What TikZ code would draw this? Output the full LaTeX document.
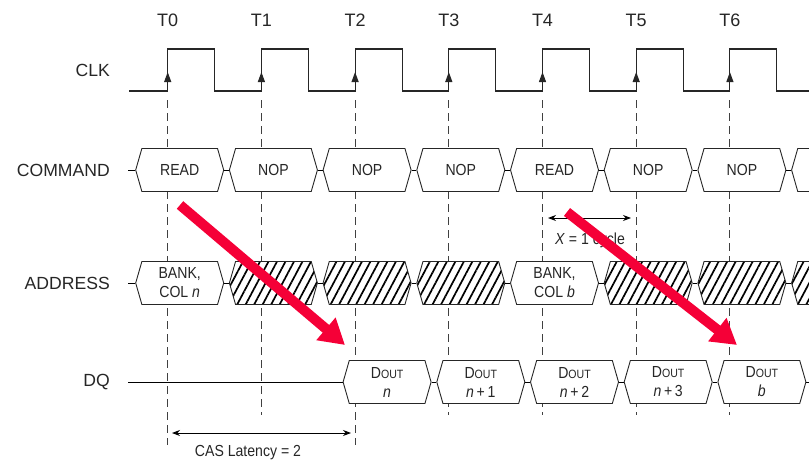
\documentclass[tikz,border=0pt]{standalone}
\usepackage{fontspec}
\setmainfont{Liberation Sans}
\newfontfamily\narrowsf[FakeStretch=0.88]{Liberation Sans}
\usetikzlibrary{arrows.meta,shapes.symbols,patterns.meta,positioning}
\definecolor{hintred}{RGB}{245,0,55}
\newcommand\dout{D{\fontsize{12}{14}\selectfont OUT}}

\begin{document}
\begin{tikzpicture}[x=1pt,y=-1pt,>={Stealth[length=8pt,width=6pt]},
    every node/.style={inner sep=0pt,text=black!85},
    sig label/.style={anchor=east,font=\fontsize{17.6}{20}\selectfont},
    tick label/.style={font=\fontsize{18}{20}\selectfont},
    note/.style={font=\narrowsf\fontsize{16}{18}\selectfont},
    bus/.style={draw=black!85,line width=0.9pt,fill=white,signal,signal to=west and east,signal pointer angle=148,
        minimum width=88pt,minimum height=43pt,align=center,font=\narrowsf\fontsize{16}{19}\selectfont},
    hatched/.style={bus,preaction={fill=white},pattern={Lines[angle=62,distance=7.5pt,line width=1.7pt]}},
    grid line/.style={draw=black!75,line width=0.9pt,dash pattern=on 8pt off 5pt},
    wave/.style={draw=black!85,line width=1.1pt},
    edge mark/.style={draw=black!85,line width=1.1pt,-{Triangle[length=10pt,width=7pt]}},
    hint/.style={draw=hintred,line width=10pt,-{Triangle[length=25pt,width=28pt]}}]

    \useasboundingbox (0,0) rectangle (809,463);
    \clip (0,0) rectangle (809,463);

    \foreach \i in {0,...,7}
        \coordinate (T\i) at ({167.7+93.7*\i},0);

    \foreach \i/\yend in {0/445,1/415,2/445,3/415,4/415,5/415,6/415}
        \draw[grid line] ([yshift=-100pt]T\i) -- ([yshift=-\yend pt]T\i);

    \foreach \i in {0,...,6}
        \node[tick label] (t\i) at ([yshift=-20pt]T\i) {T\i};

    \node[sig label] (clk) at (110,70) {CLK};
    \node[sig label] (cmd) at (110,170) {COMMAND};
    \node[sig label] (addr) at (110,283) {ADDRESS};
    \node[sig label] (dq) at (110,382) {DQ};

    \draw[wave] (129,91) foreach \i in {0,...,6}{
        -| ({167.7+93.7*\i},49) -| ({214.7+93.7*\i},91)
    } -- (809,91);
    \foreach \i in {0,...,6}
        \draw[edge mark] ([yshift=-86pt]T\i) -- ([yshift=-72pt]T\i);

    \foreach \txt [count=\i from 0] in {READ,NOP,NOP,NOP,READ,NOP,NOP,{}}
        \node[bus] (c\i) at ({179.7+93.7*\i},170) {\txt};
    \coordinate (c start) at (128,170);
    \draw (c start) -- (c0.west);
    \foreach \curr [evaluate = \curr as \prev using {int(\curr-1)}] in {1,...,7}
        \draw (c\prev.east) -- (c\curr.west);

    \node[bus] (a0) at (179.7,283) {BANK,\\COL \textit{n}};
    \node[bus] (a4) at ({179.7+93.7*4},283) {BANK,\\COL \textit{b}};
    \foreach \i in {1,2,3,5,6,7}
        \node[hatched] (a\i) at ({179.7+93.7*\i},283) {};
    \coordinate (a start) at (128,283);
    \draw (a start) -- (a0.west);
    \foreach \curr [evaluate = \curr as \prev using {int(\curr-1)}] in {1,...,7}
        \draw (a\prev.east) -- (a\curr.west);

    \foreach \txt [count=\i from 2] in {\textit{n},\textit{n}\,+\,1,\textit{n}\,+\,2,\textit{n}\,+\,3,\textit{b}}
        \node[bus] (d\i) at ({199.7+93.7*\i},382) {\dout\\\txt};
    \coordinate (dq start) at (128,382);
    \coordinate (dq end) at (809,382);
    \draw (dq start) -- (d2.west);
    \foreach \curr [evaluate = \curr as \prev using {int(\curr-1)}] in {3,...,6}
        \draw (d\prev.east) -- (d\curr.west);
    \draw (d6.east) -- (dq end);

    \coordinate (x from) at (548,218);
    \coordinate (x to) at (631,218);
    \draw[<->,line width=0.9pt] (x from) -- (x to);
    \node[note] (xcycle) at (590,240) {\textit{X} = 1 cycle};

    \coordinate (cas from) at (172,433);
    \coordinate (cas to) at (351,433);
    \draw[<->,line width=0.9pt] (cas from) -- (cas to);
    \node[note] (cas) at (248,453) {CAS Latency = 2};

    \coordinate (r1 from) at (180,205);
    \coordinate (r1 to) at (345,345);
    \coordinate (r2 from) at (567,212);
    \coordinate (r2 to) at (737,345);
    \draw[hint] (r1 from) -- (r1 to);
    \draw[hint] (r2 from) -- (r2 to);
\end{tikzpicture}
\end{document}
